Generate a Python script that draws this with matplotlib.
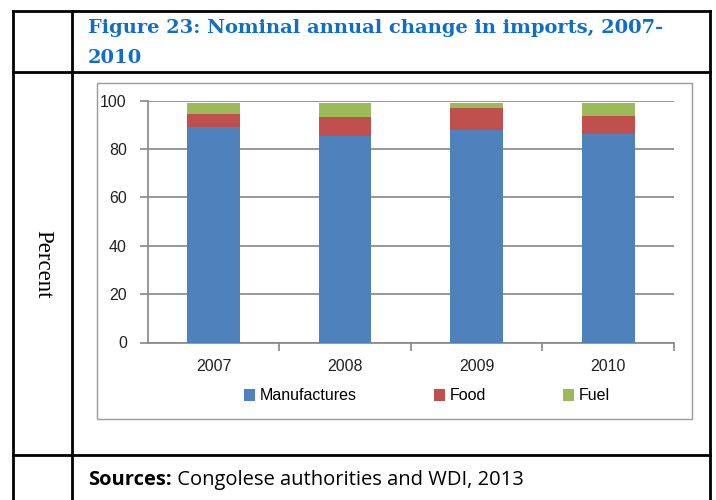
import numpy as np
import matplotlib.pyplot as plt
from matplotlib.lines import Line2D
from matplotlib.patches import Rectangle

# ---- data ----
years = ['2007', '2008', '2009', '2010']
manufactures = [89.2, 85.2, 87.7, 86.1]
food = [5.5, 7.9, 9.1, 7.4]
fuel = [4.2, 5.8, 2.1, 5.4]
series_names = ['Manufactures', 'Food', 'Fuel']
colors = ['#4F81BD', '#C0504D', '#9BBB59']

W, H = 716, 500

def fx(x):
    return x / W

def fy(y):
    return 1 - y / H

fig = plt.figure(figsize=(W / 100, H / 100), dpi=100)
fig.patch.set_facecolor('white')

# ---- table grid around the chart ----
lw_tab = 2.0
tab_lines = [
    ((13.3, 13.3), (11, 510)),      # left border
    ((71.7, 71.7), (11, 510)),      # column divider
    ((709.5, 709.5), (11, 510)),    # right border
    ((13.3, 709.5), (11, 11)),      # top border
    ((13.3, 709.5), (72.3, 72.3)),  # under title
    ((13.3, 709.5), (455, 455)),    # above sources
]
for (x0, x1), (y0, y1) in tab_lines:
    fig.add_artist(Line2D([fx(x0), fx(x1)], [fy(y0), fy(y1)], color='black',
                          lw=lw_tab, solid_capstyle='projecting',
                          transform=fig.transFigure))

# chart frame
fig.add_artist(Rectangle((fx(96.7), fy(419.3)), fx(691.7) - fx(96.7), fy(83.3) - fy(419.3),
                         transform=fig.transFigure, fill=False, ec='#9A9A9A', lw=1.0))

# ---- title (two lines) ----
title_kw = dict(family='DejaVu Serif', weight='bold', fontsize=14, color='#0F6FC6',
                ha='left', va='baseline')
fig.text(fx(88), fy(33), 'Figure 23: Nominal annual change in imports, 2007-', **title_kw)
fig.text(fx(88), fy(63), '2010', **title_kw)

# ---- side label ----
fig.text(fx(42.5), fy(264), 'Percent', family='Liberation Serif', fontsize=16.5,
         rotation=270, ha='center', va='center', color='black')

# ---- bar chart ----
ax = fig.add_axes([fx(147.7), fy(342.5), fx(674) - fx(147.7), fy(100.7) - fy(342.5)])
x = np.arange(len(years))
bottom = np.zeros(len(years))
for vals, name, c in zip([manufactures, food, fuel], series_names, colors):
    ax.bar(x, vals, width=0.4, bottom=bottom, color=c, label=name, zorder=3)
    bottom += np.array(vals)

ax.set_xlim(-0.5, len(years) - 0.5)
ax.set_ylim(0, 100)
ax.set_yticks(np.arange(0, 101, 20))
ax.yaxis.grid(True, color='#868686', lw=1.2, zorder=0)
ax.set_axisbelow(True)
for s in ['top', 'right']:
    ax.spines[s].set_visible(False)
for s in ['left', 'bottom']:
    ax.spines[s].set_color('#868686')
    ax.spines[s].set_linewidth(1.2)

# year labels at category centres, tick marks at category edges
ax.set_xticks(x)
ax.set_xticklabels(years)
ax.tick_params(axis='x', which='major', length=0, pad=12)
ax.set_xticks(np.arange(0.5, len(years), 1.0), minor=True)
ax.tick_params(axis='x', which='minor', length=6, color='#868686', width=1.2)
ax.tick_params(axis='y', length=6, color='#868686', width=1.2, pad=9)
for lab in ax.get_xticklabels() + ax.get_yticklabels():
    lab.set_family('Liberation Sans')
    lab.set_fontsize(11.5)
    lab.set_color('#222222')

fig.legend(loc='center', bbox_to_anchor=(fx(427), fy(396)), ncol=3, frameon=False,
           prop={'family': 'Liberation Sans', 'size': 11.5},
           handlelength=0.7, handleheight=0.7, handletextpad=0.3, columnspacing=4.8)

# ---- sources line ----
src = fig.text(fx(88), fy(485), 'Sources:', family='Open Sans', weight='bold',
               fontsize=14.5, ha='left', va='baseline')
ax.annotate(' Congolese authorities and WDI, 2013', xy=(1, 0), xycoords=src,
            ha='left', va='bottom', family='Open Sans', fontsize=14.5,
            annotation_clip=False)

fig.savefig('out.png', dpi=100)
